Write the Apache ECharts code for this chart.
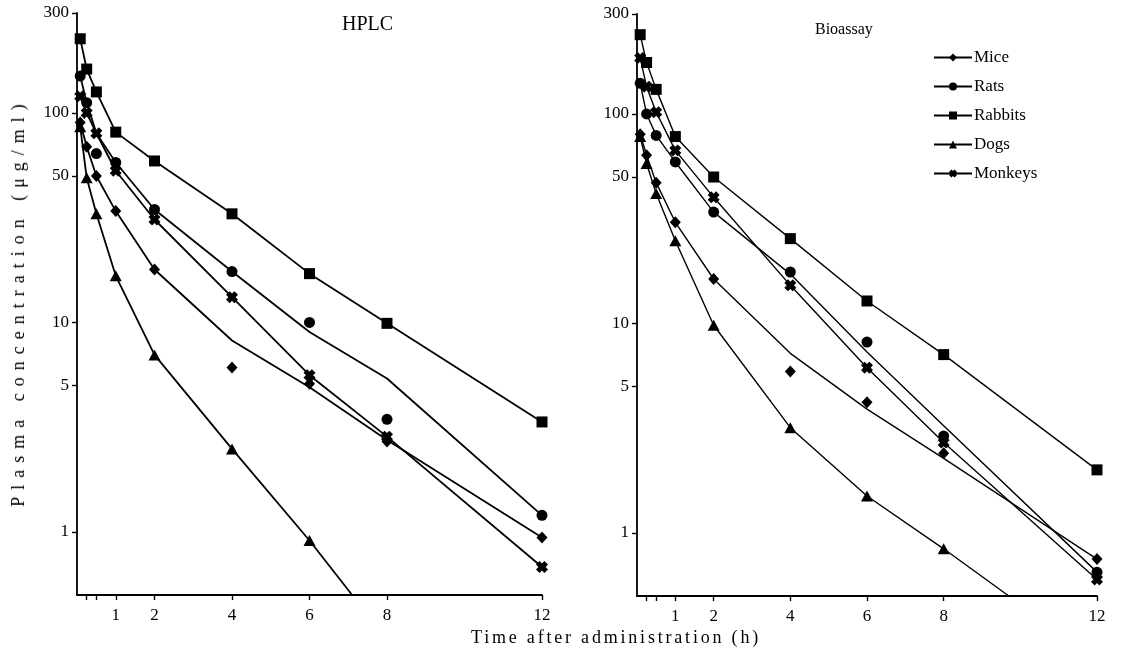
<!DOCTYPE html>
<html><head><meta charset="utf-8">
<script src="https://cdn.jsdelivr.net/npm/echarts@6/dist/echarts.min.js"></script>
<style>
html,body{margin:0;padding:0;background:#fff;}
#wrap{position:relative;width:1121px;height:654px;overflow:hidden;}
#chart{position:absolute;left:0;top:0;width:1121px;height:654px;}
.ttl{position:absolute;font-family:'Liberation Serif',serif;color:#000;white-space:nowrap;line-height:1;}
#ylab{left:18px;top:302px;font-size:18px;letter-spacing:7px;transform:translate(-50%,-50%) rotate(-90deg);}
#xlab{left:616px;top:637px;font-size:18px;letter-spacing:2.8px;transform:translate(-50%,-50%);}
</style></head><body>
<div id="wrap"><div id="chart"></div>
<div id="ylab" class="ttl">Plasma concentration (μg/ml)</div>
<div id="xlab" class="ttl">Time after administration (h)</div>
</div>
<script>
// ---- data ----
const species = ['Mice', 'Rats', 'Rabbits', 'Dogs', 'Monkeys'];
const panelTitles = ['HPLC', 'Bioassay'];
const times = [0.083, 0.25, 0.5, 1, 2, 4, 6, 8, 12];
const yTickValues = [1, 5, 10, 50, 100, 300];
const xTickValues = [0.25, 0.5, 1, 2, 4, 6, 8, 12];
const xLabelValues = [1, 2, 4, 6, 8, 12];

// HPLC observed points (aligned with times)
const hplcMice    = [90, 69, 50, 34, 17.9, 6.1, 5.1, 2.7, 0.94];
const hplcRats    = [150, 112, 64, 58, 34.6, 17.5, 10, 3.45, 1.2];
const hplcRabbits = [226, 162, 126, 81, 59, 33, 17.1, 9.9, 3.35];
const hplcDogs    = [86, 49, 33, 16.7, 7.0, 2.49, 0.91, null, null];
const hplcMonkeys = [120, 100, 80, 53, 31, 13.2, 5.6, 2.85, 0.68];

// HPLC fitted curves [time, conc]
const hplcMiceFit    = [[0.083,90],[0.25,69],[0.5,50],[1,34],[2,17.9],[4,8.2],[6,4.9],[8,2.75],[12,0.94]];
const hplcRatsFit    = [[0.083,150],[0.25,112],[0.5,80],[1,58],[2,34.6],[4,17.5],[6,9.0],[8,5.4],[12,1.2]];
const hplcRabbitsFit = [[0.083,226],[0.25,162],[0.5,126],[1,81],[2,59],[4,33],[6,17.1],[8,9.9],[12,3.35]];
const hplcDogsFit    = [[0.083,86],[0.25,49],[0.5,33],[1,16.7],[2,7.0],[4,2.49],[6,0.91],[7.1,0.5]];
const hplcMonkeysFit = [[0.083,120],[0.25,100],[0.5,80],[1,53],[2,31],[4,13.2],[6,5.6],[8,2.85],[12,0.68]];

// Bioassay observed points (aligned with times)
const bioMice    = [80, 63.5, 47, 30.4, 16.3, 5.9, 4.2, 2.4, 0.75];
const bioRats    = [140, 100, 79, 59, 34, 17.6, 8.15, 2.9, 0.65];
const bioRabbits = [239, 176, 131, 78, 50, 25.4, 12.8, 7.1, 2.0];
const bioDogs    = [78, 58, 41.7, 24.8, 9.8, 3.18, 1.5, 0.84, null];
const bioMonkeys = [185, 135, 102, 67, 40, 15.2, 6.15, 2.7, 0.6];

// Bioassay fitted curves [time, conc]
const bioMiceFit    = [[0.083,80],[0.25,63.5],[0.5,47],[1,30.4],[2,16.3],[4,7.2],[6,3.9],[8,2.27],[12,0.75]];
const bioRatsFit    = [[0.083,140],[0.25,100],[0.5,79],[1,59],[2,34],[4,17.2],[6,7.3],[8,3.25],[12,0.65]];
const bioRabbitsFit = [[0.083,239],[0.25,176],[0.5,131],[1,78],[2,50],[4,25.4],[6,12.8],[8,7.1],[12,2.0]];
const bioDogsFit    = [[0.083,78],[0.25,58],[0.5,41.7],[1,24.8],[2,9.8],[4,3.18],[6,1.5],[8,0.84],[9.7,0.5]];
const bioMonkeysFit = [[0.083,185],[0.25,135],[0.5,102],[1,67],[2,40],[4,15.2],[6,6.15],[8,2.7],[12,0.6]];

const obsSets = [
  [hplcMice, hplcRats, hplcRabbits, hplcDogs, hplcMonkeys],
  [bioMice, bioRats, bioRabbits, bioDogs, bioMonkeys]
];
const fitSets = [
  [hplcMiceFit, hplcRatsFit, hplcRabbitsFit, hplcDogsFit, hplcMonkeysFit],
  [bioMiceFit, bioRatsFit, bioRabbitsFit, bioDogsFit, bioMonkeysFit]
];

// ---- styling ----
const FONT = "'Liberation Serif', 'DejaVu Serif', serif";
const monkeyPath = 'path://M3,0L5,2L7,0L10,3L8,5L10,7L7,10L5,8L3,10L0,7L2,5L0,3Z';
const symbols = ['diamond', 'circle', 'rect', 'triangle', monkeyPath];
const symbolSizes = [[11, 12], 11, 11, [12, 11], 12];
const lineWidths = [1.8, 1.4];

const LOG = v => Math.log10(v);
const yMin = LOG(0.5), yMax = LOG(300);

const grids = [
  { left: 77, top: 13, width: 465, height: 582 },
  { left: 637, top: 14, width: 460, height: 582 }
];

function xAxisFor(i) {
  return {
    type: 'value', gridIndex: i, min: 0, max: 12,
    axisLine: { show: true, onZero: false, lineStyle: { color: '#000', width: 1.8 } },
    axisTick: { show: true, customValues: xTickValues, length: 5, lineStyle: { color: '#000', width: 1.4 } },
    axisLabel: { customValues: xLabelValues, color: '#000', fontSize: 17, fontFamily: FONT, margin: 12 },
    splitLine: { show: false }
  };
}
function yAxisFor(i) {
  return {
    type: 'value', gridIndex: i, min: yMin, max: yMax,
    axisLine: { show: true, onZero: false, lineStyle: { color: '#000', width: 1.8 } },
    axisTick: { show: true, customValues: yTickValues.map(LOG), length: 5, lineStyle: { color: '#000', width: 1.4 } },
    axisLabel: {
      customValues: yTickValues.map(LOG), color: '#000', fontSize: 17, fontFamily: FONT, margin: 8,
      formatter: v => String(Math.round(Math.pow(10, v)))
    },
    splitLine: { show: false }
  };
}

const series = [];
// fitted lines first (used for legend icons)
for (let p = 0; p < 2; p++) {
  species.forEach((name, i) => {
    series.push({
      type: 'line', name, xAxisIndex: p, yAxisIndex: p,
      data: fitSets[p][i].map(([t, v]) => [t, LOG(v)]),
      symbol: symbols[i], symbolSize: symbolSizes[i], showSymbol: false,
      lineStyle: { color: '#000', width: lineWidths[p] },
      itemStyle: { color: '#000' },
      silent: true, clip: true, z: 2
    });
  });
}
for (let p = 0; p < 2; p++) {
  species.forEach((name, i) => {
    const obs = obsSets[p][i];
    const pts = [];
    times.forEach((t, k) => { if (obs[k] != null) pts.push([t, LOG(obs[k])]); });
    series.push({
      type: 'scatter', name, xAxisIndex: p, yAxisIndex: p,
      data: pts, symbol: symbols[i], symbolSize: symbolSizes[i],
      itemStyle: { color: '#000', opacity: 1 }, silent: true, z: 3
    });
  });
}

const chart = echarts.init(document.getElementById('chart'), null, { renderer: 'canvas' });
chart.setOption({
  animation: false,
  backgroundColor: '#fff',
  title: [
    { text: panelTitles[0], left: 337, top: 10, textStyle: { fontFamily: FONT, fontSize: 20, fontWeight: 'normal', color: '#000' } },
    { text: panelTitles[1], left: 810, top: 17, textStyle: { fontFamily: FONT, fontSize: 16, fontWeight: 'normal', color: '#000' } }
  ],
  legend: {
    data: species, orient: 'vertical', left: 928, top: 44,
    itemWidth: 38, itemHeight: 10, itemGap: 12,
    textStyle: { fontFamily: FONT, fontSize: 17, color: '#000', padding: [0, 0, 0, -3] },
    selectedMode: false
  },
  grid: grids,
  xAxis: [xAxisFor(0), xAxisFor(1)],
  yAxis: [yAxisFor(0), yAxisFor(1)],
  series
});
</script>
</body></html>
